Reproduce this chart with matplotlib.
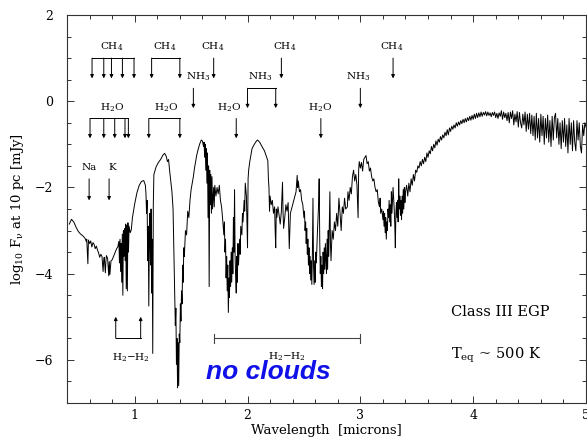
import matplotlib
matplotlib.use("Agg")
import matplotlib.pyplot as plt
from matplotlib.ticker import MultipleLocator

plt.rcParams['font.family'] = ['DejaVu Serif']
plt.rcParams['mathtext.fontset'] = 'dejavuserif'
plt.rcParams['mathtext.default'] = 'regular'

# ---- model spectrum: log10 F_nu at 10 pc [mJy] vs wavelength [microns] ----
wl_optical = [0.42, 0.44, 0.46, 0.48, 0.50, 0.52, 0.54, 0.56, 0.57, 0.575, 0.585, 0.59, 0.60, 0.61,
              0.62, 0.63, 0.64, 0.65, 0.66, 0.67, 0.68, 0.69, 0.70, 0.71, 0.72, 0.725, 0.73, 0.74,
              0.745, 0.75, 0.76, 0.77, 0.775, 0.78, 0.79, 0.80, 0.82, 0.84, 0.85, 0.86, 0.865, 0.87,
              0.875, 0.88, 0.885, 0.89, 0.895, 0.90, 0.905, 0.91, 0.915, 0.92, 0.925, 0.93, 0.935,
              0.94, 0.945, 0.95, 0.96, 0.97, 0.98]
f_optical = [-2.85, -2.74, -2.80, -2.92, -3.02, -3.08, -3.12, -3.18, -3.25, -3.20, -3.77, -3.22, -3.30, -3.24,
             -3.38, -3.28, -3.32, -3.42, -3.36, -3.45, -3.52, -3.62, -3.55, -3.60, -3.95, -3.70, -3.62, -3.98,
             -3.70, -3.58, -3.65, -4.05, -3.72, -4.02, -3.70, -3.68, -3.55, -3.42, -3.38, -3.25, -3.75, -3.20,
             -3.95, -3.30, -4.20, -3.08, -4.50, -3.00, -3.60, -2.95, -3.70, -2.85, -4.35, -2.88, -4.40,
             -2.82, -3.50, -2.90, -3.05, -2.98, -2.70]

wl_zj = [1.00, 1.02, 1.04, 1.06, 1.08, 1.095, 1.10, 1.105, 1.11, 1.115, 1.12, 1.125, 1.13, 1.135,
         1.14, 1.145, 1.15, 1.155, 1.16, 1.165, 1.17, 1.19, 1.21, 1.23, 1.25, 1.265, 1.28, 1.29,
         1.30, 1.31, 1.32, 1.33, 1.34, 1.345, 1.35, 1.355, 1.36, 1.365, 1.37, 1.375, 1.38, 1.385,
         1.39, 1.395, 1.40, 1.405, 1.41, 1.415, 1.42, 1.425, 1.43, 1.435, 1.44, 1.45, 1.46, 1.47,
         1.48, 1.49]
f_zj = [-2.38, -2.12, -1.95, -1.86, -1.84, -1.95, -2.15, -2.60, -2.30, -3.70, -2.90, -4.75, -3.20, -2.60,
        -3.80, -2.50, -4.45, -3.20, -5.85, -2.40, -1.70, -1.52, -1.42, -1.35, -1.25, -1.21, -1.28, -1.40,
        -1.35, -1.62, -1.85, -2.10, -2.50, -3.20, -4.00, -4.60, -5.20, -4.80, -6.10, -5.50, -6.65, -5.60,
        -6.60, -5.40, -5.60, -4.70, -5.10, -4.40, -4.70, -3.80, -4.20, -3.40, -3.60, -3.00, -3.10, -2.55,
        -2.70, -2.30]

wl_h = [1.50, 1.52, 1.53, 1.55, 1.56, 1.575, 1.59, 1.60, 1.61, 1.615, 1.62, 1.625, 1.63, 1.635,
        1.64, 1.645, 1.65, 1.655, 1.66, 1.665, 1.67, 1.675, 1.68, 1.685, 1.69, 1.70, 1.705, 1.71,
        1.72, 1.73, 1.74, 1.75, 1.76, 1.77, 1.78, 1.79, 1.795, 1.80, 1.805, 1.81, 1.815, 1.82,
        1.825, 1.83, 1.835, 1.84, 1.845, 1.85, 1.855, 1.86, 1.865, 1.87, 1.875, 1.88, 1.885, 1.89,
        1.895, 1.90, 1.905, 1.91, 1.915, 1.92, 1.93, 1.935, 1.94, 1.95, 1.955, 1.96, 1.97, 1.975,
        1.98, 1.99]
f_h = [-2.05, -1.75, -1.55, -1.25, -1.14, -1.00, -0.90, -0.92, -1.05, -0.95, -1.30, -1.00, -1.60, -1.10,
       -1.90, -1.20, -2.70, -1.50, -4.30, -1.60, -2.40, -1.70, -2.60, -1.75, -2.50, -2.00, -2.45, -1.95,
       -2.20, -2.00, -2.15, -1.95, -2.30, -2.45, -2.75, -3.10, -2.80, -3.50, -3.20, -4.10, -3.60, -4.40,
       -3.80, -4.90, -4.10, -4.55, -3.70, -4.30, -3.50, -4.20, -3.40, -4.00, -2.70, -3.50, -2.05, -3.60,
       -4.10, -4.45, -3.60, -4.20, -3.30, -3.80, -3.20, -3.55, -2.90, -3.10, -2.60, -2.80, -2.30, -2.55,
       -1.90, -2.20]

wl_k = [2.00, 2.005, 2.01, 2.02, 2.04, 2.06, 2.08, 2.09, 2.10, 2.11, 2.13, 2.15, 2.17, 2.18,
        2.185, 2.19, 2.195, 2.20, 2.21, 2.22, 2.23, 2.24, 2.245, 2.25, 2.255, 2.26, 2.27, 2.28,
        2.29, 2.30, 2.31, 2.315, 2.32, 2.33, 2.34, 2.35, 2.36, 2.365, 2.37, 2.38, 2.39, 2.40,
        2.41, 2.42, 2.43, 2.44, 2.445, 2.45, 2.46, 2.47, 2.48, 2.49, 2.50, 2.505, 2.51, 2.515,
        2.52, 2.525, 2.53, 2.535, 2.54, 2.545, 2.55, 2.555, 2.56, 2.565, 2.57, 2.575, 2.58, 2.585,
        2.59, 2.595, 2.60, 2.605, 2.61, 2.62, 2.63, 2.635, 2.64, 2.645, 2.65, 2.655, 2.66, 2.665,
        2.67, 2.675, 2.68, 2.685, 2.69, 2.70, 2.705, 2.71, 2.715, 2.72, 2.73, 2.735, 2.74, 2.75,
        2.76, 2.77, 2.78, 2.79, 2.80, 2.81, 2.82, 2.83, 2.84, 2.85, 2.86, 2.87, 2.885, 2.89]
f_k = [-3.40, -1.80, -1.60, -1.40, -1.10, -1.00, -0.92, -0.90, -0.93, -0.96, -1.06, -1.15, -1.30, -1.38,
       -1.80, -2.00, -2.55, -2.20, -2.40, -2.30, -2.60, -2.45, -3.00, -3.40, -2.50, -2.70, -2.45, -2.65,
       -2.85, -2.55, -1.88, -2.60, -2.95, -2.70, -2.40, -2.55, -2.35, -2.90, -3.42, -2.60, -2.50, -2.40,
       -2.30, -2.20, -2.10, -1.72, -2.00, -1.85, -2.10, -2.05, -2.30, -2.40, -2.70, -2.55, -3.00, -2.80,
       -3.30, -2.95, -3.55, -3.20, -3.80, -3.40, -4.00, -3.60, -4.15, -3.70, -4.25, -3.50, -2.25, -3.80,
       -4.25, -3.70, -4.20, -3.50, -3.75, -3.00, -2.40, -1.80, -3.20, -4.00, -3.60, -4.30, -3.80, -4.35,
       -3.50, -4.00, -3.40, -3.90, -3.30, -4.00, -3.20, -3.90, -3.00, -3.60, -2.10, -3.30, -3.70, -3.00,
       -3.20, -2.80, -3.00, -2.60, -2.90, -2.25, -2.60, -3.00, -2.45, -2.60, -2.25, -2.50, -2.45, -2.10]

wl_l = [2.90, 2.91, 2.92, 2.93, 2.94, 2.95, 2.96, 2.97, 2.98, 2.985, 2.99, 3.00, 3.01, 3.02,
        3.03, 3.05, 3.06, 3.07, 3.08, 3.09, 3.10, 3.11, 3.12, 3.13, 3.14, 3.15, 3.16, 3.17,
        3.175, 3.18, 3.19, 3.20, 3.205, 3.21, 3.215, 3.22, 3.225, 3.23, 3.235, 3.24, 3.245, 3.25,
        3.255, 3.26, 3.265, 3.27, 3.275, 3.28, 3.29, 3.30, 3.305, 3.31, 3.315, 3.32, 3.325, 3.33,
        3.335, 3.34, 3.345, 3.35, 3.355, 3.36, 3.365, 3.37, 3.375, 3.38, 3.385, 3.39, 3.395, 3.40,
        3.41, 3.42, 3.43, 3.44, 3.45, 3.46, 3.47, 3.48, 3.49, 3.50, 3.51, 3.52, 3.53, 3.54,
        3.55, 3.56, 3.57, 3.58, 3.59, 3.60, 3.61, 3.62, 3.63, 3.64, 3.65, 3.66, 3.67, 3.68,
        3.69, 3.70, 3.71, 3.72, 3.73, 3.74, 3.75, 3.76, 3.77, 3.78, 3.79, 3.80, 3.81, 3.82,
        3.83, 3.84, 3.85, 3.86, 3.87, 3.88, 3.89, 3.90, 3.91, 3.92, 3.93, 3.94, 3.95, 3.96,
        3.97, 3.98, 3.99]
f_l = [-2.30, -2.00, -2.15, -1.75, -1.60, -1.85, -1.70, -1.95, -2.70, -1.60, -1.40, -1.55, -1.42, -1.62,
       -1.35, -1.26, -1.45, -1.40, -1.62, -1.55, -1.75, -1.85, -1.80, -2.00, -2.10, -2.05, -2.35, -2.45,
       -2.25, -2.60, -2.50, -2.75, -2.55, -2.90, -2.60, -3.05, -2.70, -3.20, -2.80, -3.00, -2.50, -2.70,
       -2.30, -2.80, -2.40, -2.90, -2.10, -2.60, -2.00, -2.50, -2.85, -3.40, -2.60, -2.35, -2.70, -2.30,
       -2.80, -1.80, -2.50, -2.20, -2.65, -2.30, -2.75, -2.20, -2.60, -2.05, -2.50, -2.00, -2.35, -2.10,
       -1.95, -2.20, -1.90, -2.10, -1.80, -1.95, -1.70, -1.85, -1.60, -1.65, -1.50, -1.55, -1.40, -1.50,
       -1.35, -1.45, -1.30, -1.40, -1.20, -1.30, -1.15, -1.22, -1.05, -1.15, -1.00, -1.08, -0.92, -1.02,
       -0.88, -0.95, -0.82, -0.90, -0.78, -0.85, -0.72, -0.80, -0.66, -0.78, -0.62, -0.70, -0.58, -0.65,
       -0.55, -0.62, -0.50, -0.58, -0.48, -0.55, -0.45, -0.52, -0.42, -0.50, -0.40, -0.48, -0.38, -0.45,
       -0.35, -0.44, -0.33]

wl_m = [4.00, 4.01, 4.02, 4.03, 4.04, 4.05, 4.06, 4.07, 4.08, 4.09, 4.10, 4.11, 4.12, 4.13,
        4.14, 4.15, 4.16, 4.17, 4.18, 4.19, 4.20, 4.21, 4.22, 4.23, 4.24, 4.25, 4.26, 4.27,
        4.28, 4.29, 4.30, 4.31, 4.32, 4.33, 4.34, 4.35, 4.36, 4.37, 4.38, 4.39, 4.40, 4.41,
        4.42, 4.43, 4.44, 4.45, 4.46, 4.47, 4.48, 4.49, 4.50, 4.51, 4.52, 4.53, 4.54, 4.55,
        4.56, 4.57, 4.58, 4.59, 4.60, 4.61, 4.62, 4.63, 4.64, 4.65, 4.66, 4.67, 4.68, 4.69,
        4.70, 4.71, 4.72, 4.73, 4.74, 4.75, 4.76, 4.77, 4.78, 4.79, 4.80, 4.81, 4.82, 4.83,
        4.84, 4.85, 4.86, 4.87, 4.88, 4.89, 4.90, 4.91, 4.92, 4.93, 4.94, 4.95, 4.96, 4.97,
        4.98, 4.99, 5.00]
f_m = [-0.42, -0.30, -0.40, -0.28, -0.38, -0.27, -0.36, -0.25, -0.35, -0.26, -0.32, -0.24, -0.34, -0.25,
       -0.33, -0.27, -0.36, -0.26, -0.33, -0.25, -0.38, -0.28, -0.40, -0.27, -0.35, -0.22, -0.42, -0.25,
       -0.38, -0.28, -0.45, -0.26, -0.50, -0.25, -0.40, -0.22, -0.55, -0.30, -0.48, -0.24, -0.60, -0.26,
       -0.50, -0.62, -0.30, -0.55, -0.25, -0.70, -0.30, -0.65, -0.28, -0.75, -0.32, -0.80, -0.35, -0.90,
       -0.28, -0.85, -0.40, -0.95, -0.30, -0.80, -0.35, -1.00, -0.40, -0.85, -0.32, -0.95, -0.45, -1.05,
       -0.35, -0.90, -0.38, -0.28, -0.85, -0.40, -1.00, -0.50, -1.10, -0.45, -0.95, -0.40, -1.05, -0.55,
       -1.20, -0.40, -1.00, -0.50, -1.15, -0.45, -0.95, -1.15, -0.45, -0.90, -0.50, -1.05, -1.20, -0.55,
       -0.80, -0.50, -0.60]

wavelength = wl_optical + wl_zj + wl_h + wl_k + wl_l + wl_m
log_flux = f_optical + f_zj + f_h + f_k + f_l + f_m

# ---- absorption-feature markers ----
# (label x, arrow x positions) for each molecule
ch4_marks = [(0.80, [0.622, 0.726, 0.794, 0.891, 0.994]), (1.27, [1.15, 1.40]),
             (1.69, [1.70]), (2.33, [2.30]), (3.28, [3.29])]
nh3_marks = [(1.56, [1.52]), (2.115, [2.00, 2.25]), (2.98, [3.00])]
h2o_marks = [(0.80, [0.604, 0.726, 0.823, 0.914, 0.944]), (1.28, [1.125, 1.40]),
             (1.84, [1.90]), (2.64, [2.65])]
# rows: (label text, label y, bracket y, arrow tip y, marks)
rows = [("CH$_4$", 1.26, 1.00, 0.53, ch4_marks),
        ("NH$_3$", 0.56, 0.30, -0.16, nh3_marks),
        ("H$_2$O", -0.14, -0.40, -0.86, h2o_marks)]
atoms = [("Na", 0.60, 0.596), ("K", 0.80, 0.773)]
cia_short = [0.832, 1.053]
cia_long = [1.70, 3.00]

fig = plt.figure(figsize=(5.87, 4.42), dpi=100)
ax = fig.add_axes([67 / 587, 39 / 442, 519 / 587, 388 / 442])

ax.plot(wavelength, log_flux, color='black', lw=0.7)

ax.set_xlim(0.4, 5.0)
ax.set_ylim(-7, 2)
ax.xaxis.set_major_locator(MultipleLocator(1))
ax.xaxis.set_minor_locator(MultipleLocator(0.2))
ax.yaxis.set_major_locator(MultipleLocator(2))
ax.yaxis.set_minor_locator(MultipleLocator(0.5))
ax.tick_params(which='both', direction='in', top=True, right=True, width=0.7, color='#333333')
ax.tick_params(which='major', length=5)
ax.tick_params(which='minor', length=2.8)
ax.tick_params(axis='y', pad=10, labelsize=9)
ax.tick_params(axis='x', pad=4, labelsize=9)
for s in ax.spines.values():
    s.set_linewidth(0.8)
    s.set_color('#333333')

ax.set_xlabel("Wavelength  [microns]", fontsize=9.5, labelpad=2)
ax.set_ylabel("log$_{10}$ F$_\\nu$ at 10 pc [mJy]", fontsize=9.5, labelpad=6)

arrow_kw = dict(arrowstyle='-|>', lw=0.7, color='black', mutation_scale=5, shrinkA=0, shrinkB=0)
lab_fs = 7.5

for text, ly, by, ty, marks in rows:
    for lx, xs in marks:
        ax.text(lx, ly, text, ha='center', va='center', fontsize=lab_fs)
        if len(xs) > 1:
            ax.plot([min(xs), max(xs)], [by, by], color='black', lw=0.7)
        for x in xs:
            ax.annotate("", xy=(x, ty), xytext=(x, by), arrowprops=arrow_kw)

for text, lx, x in atoms:
    ax.text(lx, -1.53, text, ha='center', va='center', fontsize=lab_fs)
    ax.annotate("", xy=(x, -2.3), xytext=(x, -1.8), arrowprops=arrow_kw)

# collision-induced absorption
ax.plot(cia_short, [-5.5, -5.5], color='black', lw=0.7)
for x in cia_short:
    ax.annotate("", xy=(x, -5.0), xytext=(x, -5.5), arrowprops=arrow_kw)
ax.text(0.97, -5.95, "H$_2$$-$H$_2$", ha='center', va='center', fontsize=lab_fs)

ax.plot(cia_long, [-5.5, -5.5], color='#444444', lw=0.8)
for x in cia_long:
    ax.plot([x, x], [-5.4, -5.6], color='#444444', lw=0.8)
ax.text(2.345, -5.92, "H$_2$$-$H$_2$", ha='center', va='center', fontsize=lab_fs)

ax.text(2.18, -6.27, "no clouds", ha='center', va='center', fontsize=19, color='#1010e8',
        fontweight='bold', style='italic', family=['Liberation Sans', 'DejaVu Sans'])

ax.text(3.80, -4.90, "Class III EGP", ha='left', va='center', fontsize=10.5)
ax.text(3.80, -5.90, "T$_{eq}$ ~ 500 K", ha='left', va='center', fontsize=10.5)

fig.savefig("out.png", dpi=100)
